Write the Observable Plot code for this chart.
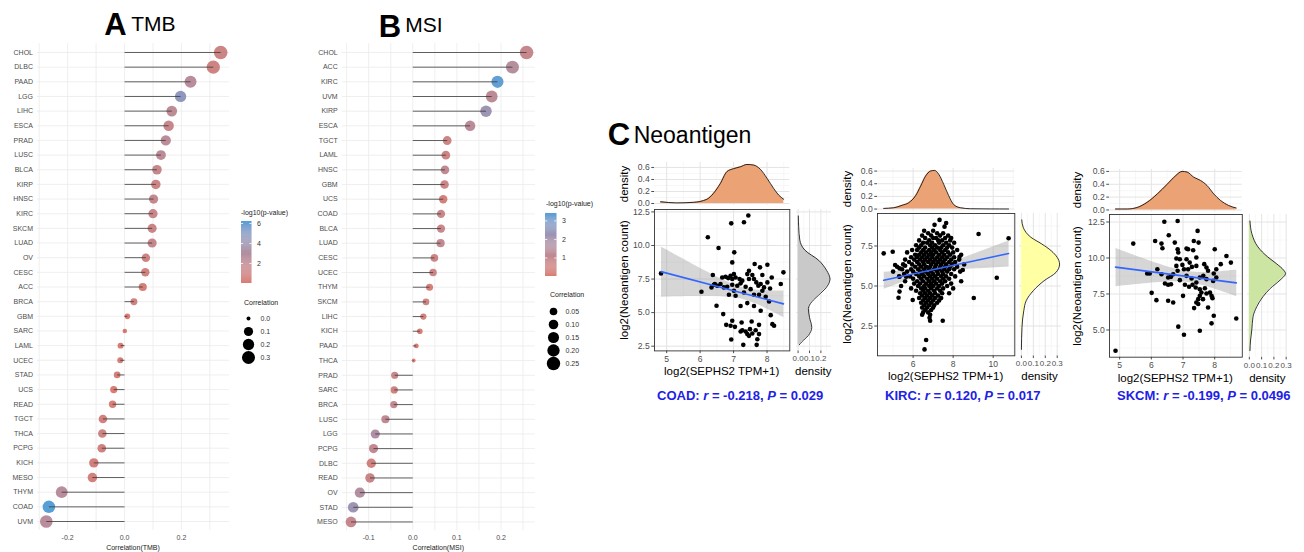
<!DOCTYPE html>
<html><head><meta charset="utf-8">
<script src="https://cdn.jsdelivr.net/npm/d3@7"></script>
<script src="https://cdn.jsdelivr.net/npm/@observablehq/plot@0.6"></script>
<style>
html,body{margin:0;padding:0;background:#fff;overflow:hidden;}
#root{position:relative;width:1304px;height:552px;overflow:hidden;font-family:"Liberation Sans",Arial,sans-serif;}
#root svg{overflow:visible;}
.t{position:absolute;white-space:nowrap;line-height:1;}
</style></head><body><div id="root"></div>
<script>
// ---------------- DATA ----------------
const tmbCancers = ["CHOL","DLBC","PAAD","LGG","LIHC","ESCA","PRAD","LUSC","BLCA","KIRP","HNSC","KIRC","SKCM","LUAD","OV","CESC","ACC","BRCA","GBM","SARC","LAML","UCEC","STAD","UCS","READ","TGCT","THCA","PCPG","KICH","MESO","THYM","COAD","UVM"];
const tmbCor = [0.338,0.312,0.232,0.197,0.166,0.155,0.145,0.128,0.114,0.110,0.102,0.100,0.097,0.097,0.075,0.073,0.064,0.033,0.010,0.001,-0.014,-0.015,-0.026,-0.038,-0.042,-0.076,-0.078,-0.080,-0.108,-0.113,-0.221,-0.266,-0.275];
const tmbLogP = [1.2,1.0,2.5,4.6,2.3,1.5,2.4,2.3,1.6,1.2,1.7,1.5,1.3,1.6,0.9,0.9,0.4,0.9,0.1,0.02,0.1,0.4,0.5,0.1,0.3,0.7,1.0,0.8,0.6,0.8,2.6,6.2,2.5];

const msiCancers = ["CHOL","ACC","KIRC","UVM","KIRP","ESCA","TGCT","LAML","HNSC","GBM","UCS","COAD","BLCA","LUAD","CESC","UCEC","THYM","SKCM","LIHC","KICH","PAAD","THCA","PRAD","SARC","BRCA","LUSC","LGG","PCPG","DLBC","READ","OV","STAD","MESO"];
const msiCor = [0.258,0.226,0.192,0.179,0.166,0.130,0.078,0.075,0.073,0.072,0.069,0.064,0.064,0.063,0.049,0.046,0.038,0.030,0.024,0.016,0.008,0.002,-0.041,-0.042,-0.043,-0.062,-0.085,-0.089,-0.094,-0.097,-0.120,-0.135,-0.140];
const msiLogP = [0.9,1.5,3.3,1.2,2.2,1.3,0.6,0.6,1.1,0.7,0.3,0.8,0.8,1.0,0.6,0.7,0.3,0.6,0.3,0.1,0.1,0.05,0.8,0.5,1.0,1.1,1.7,1.0,0.4,0.7,1.6,2.2,0.9];

const tmbSizeLegend = [0.0,0.1,0.2,0.3];
const msiSizeLegend = [0.05,0.10,0.15,0.20,0.25];
const tmbColorTicks = [2,4,6];
const msiColorTicks = [1,2,3];

// COAD scatter: [log2(SEPHS2 TPM+1), log2(Neoantigen count)]
const coadPts = [[7.44,12.23],[6.93,11.65],[7.31,11.73],[6.23,10.61],[6.55,9.81],[7.02,9.49],[6.96,8.74],[4.83,7.92],[6.38,7.80],[7.63,8.62],[7.79,8.37],[8.01,8.57],[8.49,8.00],[7.46,8.12],[7.41,7.87],[7.56,7.80],[7.86,7.80],[8.14,7.62],[6.66,7.62],[6.76,7.67],[6.84,7.57],[6.91,7.75],[7.01,7.87],[7.06,7.62],[7.18,7.50],[7.26,7.38],[6.44,7.13],[6.51,7.00],[6.71,6.88],[6.81,6.93],[6.96,7.08],[7.11,7.00],[7.21,7.18],[7.61,7.50],[7.68,7.25],[7.74,7.00],[7.81,7.13],[7.91,6.88],[8.01,7.25],[8.09,6.80],[8.41,7.13],[6.04,6.55],[7.36,6.93],[7.51,6.75],[7.61,6.33],[7.76,6.33],[7.96,6.18],[8.06,5.83],[6.86,6.33],[7.01,6.63],[6.49,5.51],[7.21,5.49],[7.41,5.71],[7.61,5.49],[7.81,5.14],[6.69,4.89],[6.96,4.39],[6.78,4.09],[6.91,4.02],[7.04,3.94],[8.11,4.81],[7.24,4.27],[7.54,4.34],[7.76,4.09],[7.49,3.77],[7.66,3.69],[7.26,3.69],[7.36,3.59],[7.41,3.40],[7.46,3.27],[7.56,3.45],[7.21,3.59],[8.16,4.14],[8.21,4.02],[7.76,3.40],[7.71,3.02],[6.93,3.00],[7.29,2.60],[7.69,2.60],[6.34,6.88],[6.41,7.08],[7.86,6.63],[7.31,6.50],[7.06,6.26],[7.46,7.50],[6.96,7.50],[6.61,7.13]];

// KIRC scatter, read row by row: [log2(Neoantigen count), [log2(SEPHS2 TPM+1) values]]
const kircRows = [
 [9.13,[7.32]],[8.94,[7.65]],[8.82,[7.07]],[8.71,[7.57]],
 [8.45,[6.55,7.0]],[8.3,[6.75,7.2,7.5]],[8.15,[6.45,6.9,7.35,7.75]],
 [8.0,[6.6,7.0,7.15,7.6,7.9]],[7.85,[6.3,6.8,7.25,7.45,7.85]],
 [7.7,[6.5,6.7,6.95,7.3,7.65,8.05]],[7.55,[6.15,6.4,6.85,7.1,7.5,7.8]],
 [7.4,[6.3,6.6,6.95,7.2,7.4,7.7,7.95]],[7.25,[5.95,6.2,6.5,6.8,7.05,7.35,7.6,8.2]],
 [7.1,[5.7,6.4,6.65,6.9,7.15,7.45,7.75,8.0]],[6.95,[6.1,6.3,6.55,6.8,7.0,7.3,7.55,7.85,8.4]],
 [6.8,[5.9,6.2,6.45,6.7,6.95,7.2,7.45,7.7,8.05]],[6.65,[5.6,6.05,6.35,6.6,6.85,7.1,7.35,7.6,7.9,8.3]],
 [6.5,[5.8,6.2,6.5,6.75,7.0,7.25,7.5,7.8,8.1]],[6.35,[5.5,5.95,6.3,6.55,6.9,7.15,7.4,7.65,7.95,8.55]],
 [6.2,[5.2,6.1,6.4,6.65,6.85,7.1,7.35,7.6,7.85,8.2]],[6.05,[5.45,5.9,6.25,6.55,6.8,7.05,7.3,7.55,7.8,8.05]],
 [5.9,[5.0,5.7,6.0,6.35,6.6,6.9,7.2,7.45,7.7,8.35]],[5.75,[5.55,6.15,6.45,6.75,7.0,7.25,7.5,7.9]],
 [5.6,[5.3,5.85,6.3,6.55,6.85,7.1,7.4,7.65,8.1]],[5.45,[6.0,6.4,6.7,6.95,7.2,7.5,7.8]],
 [5.3,[5.6,6.2,6.5,6.8,7.05,7.35,7.6,8.4]],[5.15,[6.05,6.35,6.65,6.9,7.15,7.45,7.9]],
 [5.0,[5.4,6.25,6.55,6.8,7.0,7.3,7.7]],[4.85,[5.9,6.4,6.6,6.9,7.2,7.5,8.0]],
 [4.7,[6.15,6.5,6.75,7.05,7.35]],[4.55,[6.35,6.6,6.85,7.1,7.45,7.8]],
 [4.4,[6.45,6.7,6.95,7.25]],[4.25,[6.3,6.6,6.85,7.1,7.4,9.03]],
 [4.1,[6.5,6.75,7.0,7.3]],[3.95,[6.4,6.65,6.9,7.2]],[3.8,[6.55,6.8,7.05]],
 [3.65,[6.45,6.7,7.0]],[3.5,[6.6,6.9]],[3.35,[6.5,6.75]],[3.2,[6.45,6.85]],
 [3.02,[6.82]],[2.83,[6.85,7.48]],[1.63,[6.65]],[1.04,[6.57]],
 [8.25,[9.27]],[7.98,[10.77]],[5.52,[10.18]],
 [7.04,[4.53]],[7.14,[4.98]],[6.31,[5.1]],[6.1,[5.32]],[6.27,[5.6]],[5.58,[5.65,5.32]],
 [4.65,[5.32]],[4.27,[5.27]],[4.13,[5.98]],[6.0,[8.48]],[6.83,[8.32]]
];

const skcmPts = [[4.87,3.56],[5.43,11.0],[6.41,12.52],[6.83,12.57],[6.55,11.58],[6.12,11.18],[6.32,11.0],[6.35,10.68],[6.74,11.07],[7.46,11.88],[7.34,11.18],[7.49,11.07],[6.83,10.61],[7.11,10.65],[7.16,10.61],[7.32,10.54],[6.85,10.38],[6.79,9.96],[6.90,9.91],[7.11,9.91],[7.42,10.03],[7.21,9.68],[6.98,9.52],[6.79,9.45],[6.83,9.11],[7.03,9.22],[7.16,9.22],[7.28,9.38],[7.42,9.45],[7.67,9.57],[7.74,9.34],[7.79,9.11],[8.00,10.61],[8.19,9.57],[8.05,9.22],[7.97,8.92],[8.37,10.14],[8.51,9.68],[8.68,5.80],[7.53,8.64],[7.64,8.76],[7.74,8.53],[7.95,8.41],[8.05,8.64],[5.87,8.92],[5.95,8.92],[6.19,9.22],[6.32,8.87],[6.53,8.64],[6.62,8.69],[6.69,8.87],[6.43,8.23],[6.53,8.14],[6.62,8.18],[6.90,8.46],[7.06,8.14],[7.19,8.00],[7.30,8.14],[7.40,7.95],[7.53,7.83],[7.69,7.90],[7.42,8.30],[7.27,8.57],[7.11,8.76],[6.01,7.58],[6.16,7.07],[6.53,7.03],[6.69,6.91],[7.00,7.37],[7.58,7.60],[7.53,7.37],[7.48,7.14],[7.42,6.91],[7.35,6.52],[7.48,6.80],[7.63,7.14],[7.74,7.53],[7.85,7.60],[7.90,7.37],[7.93,7.21],[7.79,6.56],[7.97,5.99],[7.90,5.46],[7.53,4.95],[6.85,5.23],[7.03,4.67]];

// Marginal densities
const coadTopX = [4.82,5.3,5.8,6.2,6.4,6.6,6.8,7.0,7.2,7.4,7.6,7.8,8.0,8.2,8.35,8.5];
const coadTopD = [0.03,0.01,0.02,0.07,0.17,0.33,0.53,0.58,0.61,0.65,0.64,0.57,0.42,0.25,0.14,0.07];
const coadRightY = [2.6,2.8,3.3,3.9,4.65,5.3,5.8,6.3,6.9,7.5,8.15,8.9,9.65,10.4,11.4,12.2];
const coadRightD = [0.01,0.03,0.09,0.12,0.10,0.09,0.12,0.18,0.25,0.28,0.25,0.18,0.06,0.015,0.005,0.002];
const kircTopX = [4.53,5.03,5.45,5.78,6.12,6.37,6.62,6.87,7.07,7.28,7.53,7.78,8.03,8.37,8.87,9.87,10.77];
const kircTopD = [0.01,0.02,0.06,0.10,0.21,0.36,0.52,0.60,0.61,0.55,0.39,0.21,0.07,0.02,0.005,0.002,0.001];
const kircRightY = [1.04,2.42,3.46,4.08,4.71,5.33,5.85,6.37,6.79,7.2,7.63,8.04,8.67,9.13];
const kircRightD = [0.0,0.005,0.02,0.04,0.10,0.19,0.29,0.32,0.30,0.25,0.17,0.08,0.015,0.003];
const skcmTopX = [4.87,5.24,5.56,5.87,6.19,6.5,6.76,6.97,7.13,7.34,7.55,7.76,7.97,8.18,8.44,8.68];
const skcmTopD = [0.015,0.015,0.04,0.12,0.25,0.40,0.53,0.60,0.59,0.51,0.46,0.38,0.25,0.15,0.07,0.03];
const skcmRightY = [3.56,4.3,5.0,5.92,6.61,7.3,7.88,8.46,8.92,9.15,9.61,10.07,10.77,11.7,12.57];
const skcmRightD = [0.005,0.01,0.02,0.03,0.06,0.11,0.17,0.25,0.295,0.28,0.22,0.15,0.07,0.02,0.005];

const statLabels = [
  "COAD: <i>r</i> = -0.218, <i>P</i> = 0.029",
  "KIRC: <i>r</i> = 0.120, <i>P</i> = 0.017",
  "SKCM: <i>r</i> = -0.199, <i>P</i> = 0.0496"
];

// ---------------- RENDER ----------------
const root = document.getElementById("root");
const FONT = '"Liberation Sans", Arial, sans-serif';

function addPlot(svg, left, top) {
  svg.style.position = "absolute";
  svg.style.left = left + "px";
  svg.style.top = top + "px";
  root.appendChild(svg);
}
function label(html, x, y, o = {}) {
  const d = document.createElement("div");
  d.className = "t";
  d.innerHTML = html;
  d.style.left = x + "px";
  d.style.top = y + "px";
  d.style.fontSize = (o.size || 10) + "px";
  d.style.fontWeight = o.weight || "normal";
  d.style.color = o.color || "#000";
  d.style.fontFamily = o.font || FONT;
  const ax = o.ax ?? -50, ay = o.ay ?? -50;
  d.style.transform = `translate(${ax}%, ${ay}%)` + (o.rotate ? ` rotate(${o.rotate}deg)` : "");
  root.appendChild(d);
}

const lowCol = "#D4655A", highCol = "#3A8FD0";

function lollipop(c) {
  const n = c.cancers.length;
  const data = c.cancers.map((k, i) => ({i, v: c.cor[i], a: Math.abs(c.cor[i]), p: c.logp[i]}));
  const idx = d3.range(n);
  const svg = Plot.plot({
    width: c.fx1 + 5 - c.left, height: 552,
    marginLeft: c.fx0 - c.left, marginRight: 5, marginTop: c.fy0, marginBottom: 552 - c.fy1,
    style: {fontFamily: FONT, fontSize: "7px", color: "#4d4d4d", background: "none", overflow: "visible"},
    x: {domain: c.xDomain, ticks: c.ticks, tickSize: 0, tickPadding: 4.5, tickFormat: d => d.toFixed(1), label: null},
    y: {domain: [-0.6, n - 1 + 0.6], range: [c.fy0, c.fy1], ticks: idx, tickSize: 0, tickPadding: 4.5,
        tickFormat: i => c.cancers[i], label: null},
    color: {type: "linear", domain: c.colorDomain, range: [lowCol, highCol], interpolate: d3.interpolateLab},
    r: {type: "sqrt", domain: c.rDomain, range: c.rRange},
    marks: [
      Plot.ruleY(idx, {y: d => d, stroke: "#ebebeb", strokeWidth: 0.8}),
      Plot.ruleX(c.grid, {x: d => d, stroke: "#ebebeb", strokeWidth: 0.8}),
      Plot.dot(data, {x: "v", y: "i", r: "a", fill: "p", fillOpacity: 0.85}),
      Plot.link(data, {x1: d => 0, x2: "v", y1: "i", y2: "i", stroke: "#3a3a3a", strokeWidth: 0.8})
    ]
  });
  addPlot(svg, c.left, 0);
}

function colorbar(x0, y0, w, h, maxV, ticks) {
  const n = 60, st = maxV / n;
  const steps = d3.range(n).map(i => i * st);
  const svg = Plot.plot({
    width: w, height: h, margin: 0,
    style: {fontFamily: FONT, fontSize: "7px", color: "#333", background: "none", overflow: "visible"},
    x: {domain: [0, 1], axis: null}, y: {domain: [0, maxV], axis: null},
    color: {type: "linear", domain: [0, maxV], range: [lowCol, highCol], interpolate: d3.interpolateLab},
    marks: [
      Plot.rect(steps, {x1: d => 0, x2: d => 1, y1: d => d, y2: d => d + st * 1.05, fill: d => d + st / 2, fillOpacity: 0.85}),
      Plot.ruleY(ticks, {y: d => d, x1: d => 0, x2: d => 0.2, stroke: "white", strokeWidth: 0.8}),
      Plot.ruleY(ticks, {y: d => d, x1: d => 0.8, x2: d => 1, stroke: "white", strokeWidth: 0.8}),
      Plot.text(ticks, {x: d => 1, y: d => d, dx: 5, text: d => String(d), textAnchor: "start", fill: "#333"})
    ]
  });
  addPlot(svg, x0, y0);
}

function sizeLegend(x0, y0, y1, vals, rDomain, rRange, fmt) {
  const svg = Plot.plot({
    width: 40, height: y1 - y0, margin: 0,
    style: {fontFamily: FONT, fontSize: "7px", color: "#333", background: "none", overflow: "visible"},
    x: {domain: [0, 1], axis: null},
    y: {type: "point", domain: vals, range: [0, y1 - y0], padding: 0, axis: null},
    r: {type: "sqrt", domain: rDomain, range: rRange},
    marks: [
      Plot.dot(vals, {x: d => 0, y: d => d, r: d => d, fill: "#000"}),
      Plot.text(vals, {x: d => 0, y: d => d, dx: 12, text: d => fmt(d), textAnchor: "start", fill: "#333"})
    ]
  });
  addPlot(svg, x0, y0);
}

// Panel A
lollipop({cancers: tmbCancers, cor: tmbCor, logp: tmbLogP, left: 0, fx0: 37, fx1: 229, fy0: 43.2, fy1: 529.8,
  xDomain: [-0.306, 0.369], ticks: [-0.2, 0, 0.2], grid: [-0.3, -0.2, -0.1, 0, 0.1, 0.2, 0.3],
  colorDomain: [0, 6.2], rDomain: [0, 0.34], rRange: [2, 6.8]});
// Panel B
lollipop({cancers: msiCancers, cor: msiCor, logp: msiLogP, left: 300, fx0: 341.7, fx1: 534.9, fy0: 43.2, fy1: 530.3,
  xDomain: [-0.160, 0.278], ticks: [-0.1, 0, 0.1, 0.2], grid: [-0.15, -0.1, -0.05, 0, 0.05, 0.1, 0.15, 0.2, 0.25],
  colorDomain: [0, 3.4], rDomain: [0, 0.26], rRange: [1.5, 6.8]});

label("Correlation(TMB)", 133, 546.5, {size: 7, color: "#222"});
label("Correlation(MSI)", 438.3, 546.5, {size: 7, color: "#222"});

// Legends A
label("-log10(p-value)", 241, 211.7, {size: 7, color: "#222", ax: 0});
colorbar(240.5, 221, 10.5, 62, 6.2, tmbColorTicks);
label("Correlation", 244, 302, {size: 7, color: "#222", ax: 0});
sizeLegend(248, 316.7, 357.3, tmbSizeLegend, [0, 0.34], [2, 6.8], d => d.toFixed(1));
// Legends B
label("-log10(p-value)", 546, 203.3, {size: 7, color: "#222", ax: 0});
colorbar(545, 213, 11.5, 63, 3.4, msiColorTicks);
label("Correlation", 550, 294.3, {size: 7, color: "#222", ax: 0});
sizeLegend(553.3, 309, 364, msiSizeLegend, [0, 0.26], [1.5, 6.8], d => d.toFixed(2));

// Titles
label("A", 115.5, 24, {size: 31, weight: "bold"});
label("TMB", 153.4, 22.6, {size: 21});
label("B", 390, 25.8, {size: 31, weight: "bold"});
label("MSI", 424, 23.9, {size: 21});
label("C", 619, 134, {size: 31, weight: "bold"});
label("Neoantigen", 692.5, 135.2, {size: 23});

// Panel C scatter helpers
const scStyle = {fontFamily: FONT, fontSize: "8.6px", color: "#4d4d4d", background: "none", overflow: "visible"};
const X = d => d[0], Y = d => d[1];

function mainScatter(c) {
  const ml = 30, mr = 3, mt = 3, mb = 22;
  const svg = Plot.plot({
    width: c.fx1 - c.fx0 + ml + mr, height: c.fy1 - c.fy0 + mt + mb,
    marginLeft: ml, marginRight: mr, marginTop: mt, marginBottom: mb,
    style: scStyle,
    x: {domain: c.xd, ticks: c.xt, tickSize: 2.75, tickPadding: 2, tickFormat: d => String(d), label: null},
    y: {domain: c.yd, ticks: c.yt, tickSize: 2.75, tickPadding: 2, tickFormat: d => d.toFixed(1), label: null},
    marks: [
      Plot.ruleX(c.xminor, {x: d => d, stroke: "#f2f2f2", strokeWidth: 0.6}),
      Plot.ruleY(c.yminor, {y: d => d, stroke: "#f2f2f2", strokeWidth: 0.6}),
      Plot.ruleX(c.xt, {x: d => d, stroke: "#e4e4e4", strokeWidth: 1}),
      Plot.ruleY(c.yt, {y: d => d, stroke: "#e4e4e4", strokeWidth: 1}),
      Plot.linearRegressionY(c.pts, {x: X, y: Y, stroke: "none", fill: "#999999", fillOpacity: 0.4}),
      Plot.dot(c.pts, {x: X, y: Y, r: 2.3, fill: "#000"}),
      Plot.linearRegressionY(c.pts, {x: X, y: Y, ci: 0, stroke: "#3366FF", strokeWidth: 1.6}),
      Plot.frame({stroke: "#333", strokeWidth: 0.9})
    ]
  });
  addPlot(svg, c.fx0 - ml, c.fy0 - mt);
}

function topMarg(c) {
  const ml = 30, mr = 3, mt = 3, mb = 1;
  const data = c.topX.map((x, i) => ({x, d: c.topD[i]}));
  const svg = Plot.plot({
    width: c.fx1 - c.fx0 + ml + mr, height: c.ty1 - c.ty0 + mt + mb,
    marginLeft: ml, marginRight: mr, marginTop: mt, marginBottom: mb,
    style: scStyle,
    x: {domain: c.xd, axis: null},
    y: {domain: c.td, ticks: [0, 0.2, 0.4, 0.6], tickSize: 2.75, tickPadding: 2, tickFormat: d => d.toFixed(1), label: null},
    marks: [
      Plot.ruleX(c.xminor, {x: d => d, stroke: "#f2f2f2", strokeWidth: 0.6}),
      Plot.ruleY([0.1, 0.3, 0.5], {y: d => d, stroke: "#f2f2f2", strokeWidth: 0.6}),
      Plot.ruleX(c.xt, {x: d => d, stroke: "#e4e4e4", strokeWidth: 1}),
      Plot.ruleY([0, 0.2, 0.4, 0.6], {y: d => d, stroke: "#e4e4e4", strokeWidth: 1}),
      Plot.areaY(data, {x: "x", y: "d", fill: "#EBA274", curve: "monotone-x"}),
      Plot.lineY(data, {x: "x", y: "d", stroke: "#000", strokeWidth: 0.8, curve: "monotone-x"})
    ]
  });
  addPlot(svg, c.fx0 - ml, c.ty0 - mt);
}

function rightMarg(c) {
  const ml = 1, mr = 4, mt = 3, mb = 22;
  const data = c.rightY.map((y, i) => ({y, d: c.rightD[i]}));
  const rt = [0, 0.1, 0.2, 0.3].filter(v => v <= c.rd[1]);
  const rm = [0.05, 0.15, 0.25].filter(v => v <= c.rd[1]);
  const svg = Plot.plot({
    width: c.rx1 - c.rx0 + ml + mr, height: c.fy1 - c.fy0 + mt + mb,
    marginLeft: ml, marginRight: mr, marginTop: mt, marginBottom: mb,
    style: {...scStyle, fontSize: "8px"},
    x: {domain: c.rd, ticks: rt, tickSize: 2.75, tickPadding: 2, tickFormat: d => d.toFixed(1), label: null},
    y: {domain: c.yd, axis: null},
    marks: [
      Plot.ruleX(rm, {x: d => d, stroke: "#f2f2f2", strokeWidth: 0.6}),
      Plot.ruleY(c.yminor, {y: d => d, stroke: "#f2f2f2", strokeWidth: 0.6}),
      Plot.ruleX(rt, {x: d => d, stroke: "#e4e4e4", strokeWidth: 1}),
      Plot.ruleY(c.yt, {y: d => d, stroke: "#e4e4e4", strokeWidth: 1}),
      Plot.areaX(data, {y: "y", x: "d", fill: c.rightFill, curve: "monotone-y"}),
      Plot.lineX(data, {y: "y", x: "d", stroke: "#000", strokeWidth: 0.8, curve: "monotone-y"})
    ]
  });
  addPlot(svg, c.rx0 - ml, c.fy0 - mt);
}

function scatterPanel(c) {
  mainScatter(c); topMarg(c); rightMarg(c);
  const tsz = 11.5;
  label("log2(Neoantigen count)", c.ytx, (c.fy0 + c.fy1) / 2, {size: tsz, rotate: -90});
  label("density", c.ytx, (c.ty0 + c.ty1) / 2, {size: tsz, rotate: -90});
  label("log2(SEPHS2 TPM+1)", (c.fx0 + c.fx1) / 2, c.xty, {size: tsz});
  label("density", (c.rx0 + c.rx1) / 2, c.xty, {size: tsz});
  label(c.stat, c.statX, 395, {size: 13, weight: "bold", color: "#2121E6", ax: 0});
}

scatterPanel({pts: coadPts, fx0: 654, fx1: 789.3, fy0: 209.3, fy1: 350.7,
  xd: [4.636, 8.68], yd: [2.15, 12.68], xt: [5, 6, 7, 8], xminor: [5.5, 6.5, 7.5, 8.5],
  yt: [2.5, 5, 7.5, 10, 12.5], yminor: [3.75, 6.25, 8.75, 11.25],
  ty0: 162.3, ty1: 205.3, td: [-0.0325, 0.6825], topX: coadTopX, topD: coadTopD,
  rx0: 795.7, rx1: 830.8, rd: [-0.014, 0.294], rightY: coadRightY, rightD: coadRightD, rightFill: "#C9C9C9",
  ytx: 625, xty: 372, stat: statLabels[0], statX: 657});

const kircPts = kircRows.flatMap(([y, xs]) => xs.map(x => [x, y]));
scatterPanel({pts: kircPts, fx0: 877, fx1: 1014.3, fy0: 212.8, fy1: 355.1,
  xd: [4.22, 11.08], yd: [0.64, 9.53], xt: [6, 8, 10], xminor: [5, 7, 9, 11],
  yt: [2.5, 5, 7.5], yminor: [1.25, 3.75, 6.25, 8.75],
  ty0: 167.5, ty1: 210, td: [-0.0305, 0.6405], topX: kircTopX, topD: kircTopD,
  rx0: 1018.5, rx1: 1060.5, rd: [-0.016, 0.336], rightY: kircRightY, rightD: kircRightD, rightFill: "#FFFFA3",
  ytx: 848, xty: 377, stat: statLabels[1], statX: 885});

scatterPanel({pts: skcmPts, fx0: 1108.9, fx1: 1241.7, fy0: 214.2, fy1: 356.9,
  xd: [4.68, 8.87], yd: [3.11, 13.02], xt: [5, 6, 7, 8], xminor: [5.5, 6.5, 7.5, 8.5],
  yt: [5, 7.5, 10, 12.5], yminor: [3.75, 6.25, 8.75, 11.25],
  ty0: 168.8, ty1: 211.2, td: [-0.03, 0.63], topX: skcmTopX, topD: skcmTopD,
  rx0: 1247.4, rx1: 1287.3, rd: [-0.015, 0.31], rightY: skcmRightY, rightD: skcmRightD, rightFill: "#CDE5A3",
  ytx: 1078, xty: 379, stat: statLabels[2], statX: 1117});
</script></body></html>
